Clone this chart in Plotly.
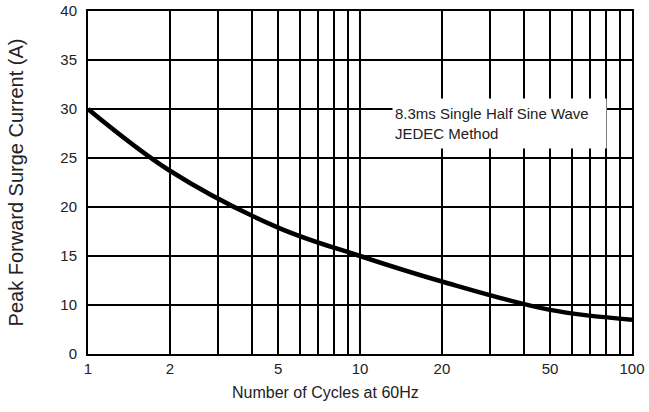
import plotly.graph_objects as go

cycles = [1, 2, 5, 10, 20, 50, 100]
current = [30.0, 23.7, 17.9, 15.0, 12.4, 9.5, 8.5]

x_grid = [1, 2, 3, 4, 5, 6, 7, 8, 9, 10, 20, 30, 40, 50, 60, 70, 80, 90, 100]
x_labels = ["1", "2", "", "", "5", "", "", "", "", "10", "20", "", "", "50", "", "", "", "", "100"]
y_ticks = [5, 10, 15, 20, 25, 30, 35, 40]
y_labels = ["0", "10", "15", "20", "25", "30", "35", "40"]

font = "Liberation Sans, Arial, sans-serif"

fig = go.Figure()
fig.add_trace(go.Scatter(x=cycles, y=current, mode="lines",
                         line=dict(color="black", width=4.5, shape="spline", smoothing=1.0),
                         showlegend=False))

fig.update_layout(
    width=649, height=412,
    margin=dict(l=88, r=17, t=11, b=58),
    paper_bgcolor="white", plot_bgcolor="white",
    font=dict(family=font, color="#222", size=15),
    xaxis=dict(type="log", range=[0, 2], tickvals=x_grid, ticktext=x_labels,
               showgrid=True, gridcolor="black", gridwidth=2,
               showline=True, linecolor="black", linewidth=2, mirror=True,
               ticks="", ticklabelstandoff=0, automargin=False,
               zeroline=False),
    yaxis=dict(range=[5, 40], tickvals=y_ticks, ticktext=y_labels,
               showgrid=True, gridcolor="black", gridwidth=2,
               showline=True, linecolor="black", linewidth=2, mirror=True,
               ticks="", ticklabelstandoff=6, automargin=False,
               title=dict(text="Peak Forward Surge Current (A)", font=dict(size=20), standoff=31),
               zeroline=False),
    annotations=[
        dict(xref="paper", yref="paper", x=(392 - 88) / 544, y=(354 - 98) / 343,
             xanchor="left", yanchor="top", width=209, height=45,
             text="8.3ms Single Half Sine Wave<br>JEDEC Method",
             align="left", valign="middle", showarrow=False,
             bgcolor="white", borderpad=2, font=dict(size=15, color="#222")),
        dict(xref="paper", yref="paper", x=(325 - 88) / 544, y=-(392 - 354) / 343,
             xanchor="center", yanchor="middle", showarrow=False,
             text="Number of Cycles at 60Hz", font=dict(size=16, color="#222")),
    ],
)

fig.write_html("out.html", config={"displayModeBar": False},
               post_script="document.body.style.margin='0px';document.body.style.overflow='hidden';")
